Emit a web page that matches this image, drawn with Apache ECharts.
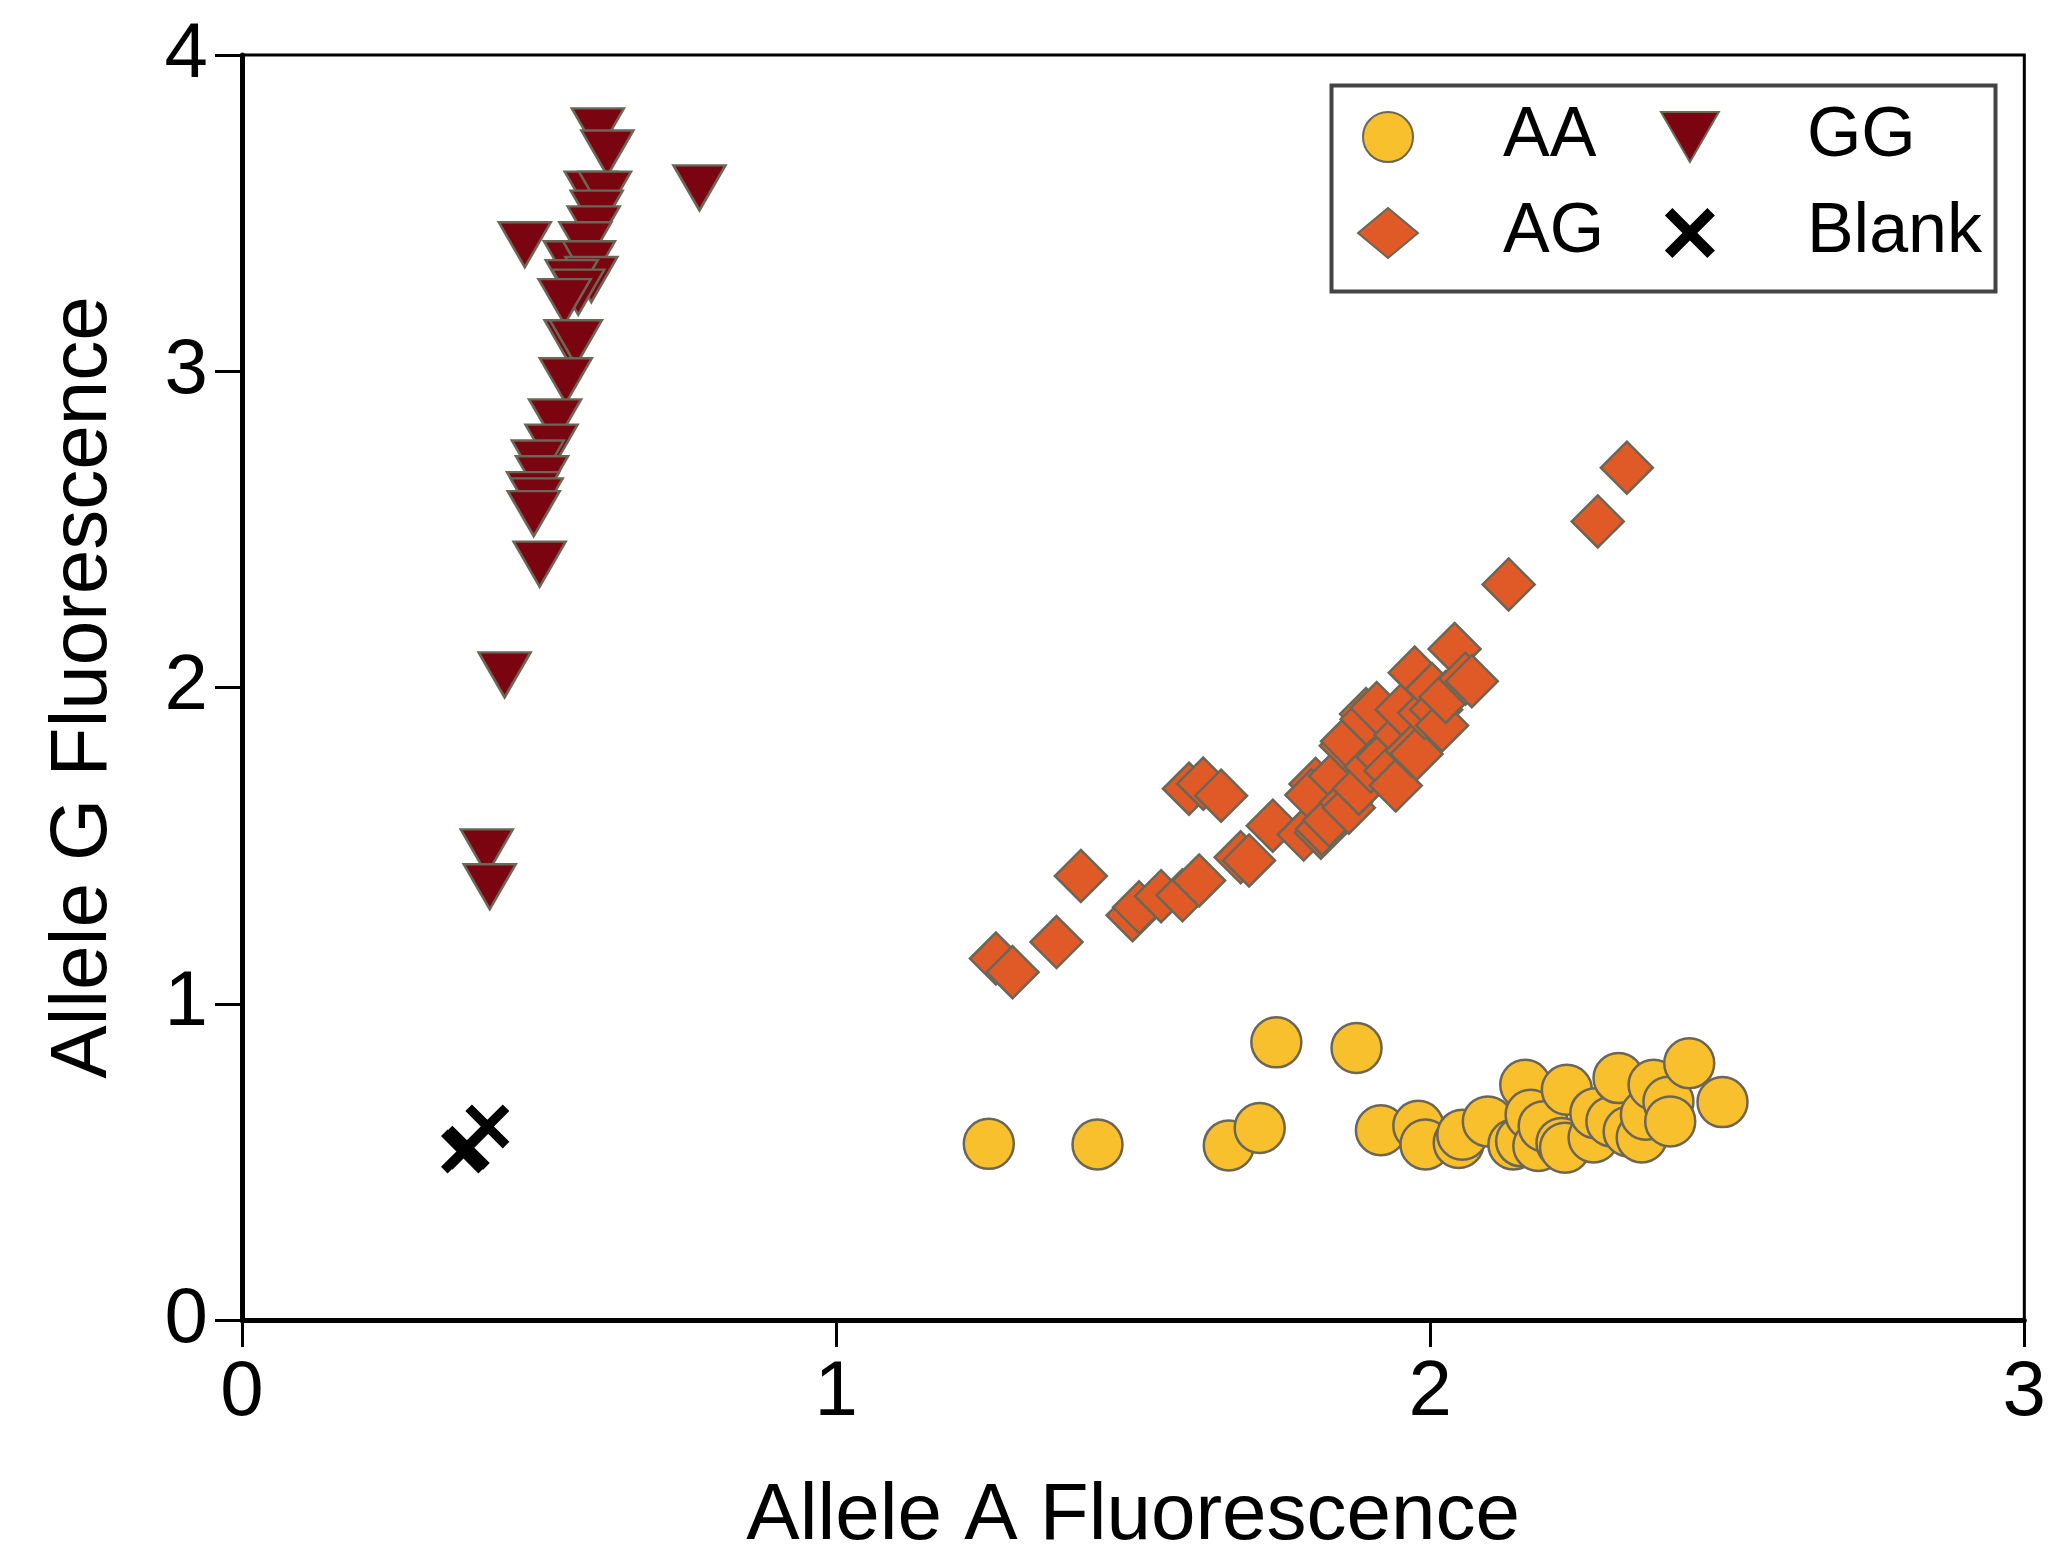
<!DOCTYPE html>
<html>
<head>
<meta charset="utf-8">
<title>Allele discrimination plot</title>
<script src="https://cdn.jsdelivr.net/npm/echarts@6.0.0/dist/echarts.min.js"></script>
<style>
  html, body { margin: 0; padding: 0; background: #fff; }
  #alleleChart { width: 2049px; height: 1562px; }
</style>
</head>
<body>
<div id="alleleChart"></div>
<script>
// values: [allele A, allele G]
var aaPoints = [
    [1.257, 0.557], [1.440, 0.555], [1.661, 0.552], [1.713, 0.607], [1.741, 0.878],
    [1.876, 0.860], [1.917, 0.600], [1.980, 0.614], [1.992, 0.555], [2.048, 0.560],
    [2.054, 0.586], [2.097, 0.628], [2.140, 0.555], [2.153, 0.565], [2.160, 0.744],
    [2.169, 0.649], [2.182, 0.550], [2.191, 0.613], [2.221, 0.560], [2.227, 0.545],
    [2.230, 0.728], [2.275, 0.577], [2.278, 0.654], [2.305, 0.628], [2.317, 0.765],
    [2.334, 0.596], [2.356, 0.577], [2.363, 0.649], [2.376, 0.744], [2.401, 0.690],
    [2.404, 0.628], [2.436, 0.812], [2.492, 0.689]
];

var agPoints = [
    [1.269, 1.143], [1.297, 1.100], [1.371, 1.195], [1.412, 1.404], [1.499, 1.280],
    [1.510, 1.305], [1.547, 1.340], [1.583, 1.343], [1.611, 1.390], [1.594, 1.680],
    [1.618, 1.696], [1.648, 1.658], [1.681, 1.463], [1.695, 1.453], [1.735, 1.563],
    [1.787, 1.535], [1.816, 1.541], [1.807, 1.695], [1.800, 1.660], [1.818, 1.553],
    [1.830, 1.580], [1.840, 1.720], [1.858, 1.636], [1.863, 1.620], [1.880, 1.680],
    [1.858, 1.816], [1.860, 1.830], [1.892, 1.916], [1.893, 1.900], [1.900, 1.750],
    [1.910, 1.935], [1.920, 1.780], [1.933, 1.737], [1.942, 1.690], [1.950, 1.850],
    [1.952, 1.930], [1.969, 1.800], [1.977, 1.790], [1.974, 2.047], [1.990, 1.920],
    [2.003, 1.995], [2.010, 1.930], [2.020, 1.880], [2.026, 1.970], [2.041, 2.122],
    [2.059, 2.028], [2.070, 2.020], [2.132, 2.326], [2.282, 2.525], [2.331, 2.695]
];

var ggPoints = [
    [0.599, 3.76], [0.615, 3.69], [0.770, 3.58], [0.587, 3.56], [0.611, 3.56],
    [0.597, 3.50], [0.592, 3.45], [0.476, 3.40], [0.578, 3.40], [0.552, 3.34],
    [0.584, 3.34], [0.588, 3.29], [0.555, 3.28], [0.566, 3.25], [0.543, 3.22],
    [0.553, 3.09], [0.562, 3.09], [0.545, 2.97], [0.527, 2.84], [0.521, 2.76],
    [0.498, 2.71], [0.505, 2.66], [0.490, 2.61], [0.496, 2.59], [0.491, 2.55],
    [0.501, 2.39], [0.442, 2.04], [0.412, 1.48], [0.417, 1.37]
];

var blankPoints = [
    [0.413, 0.612], [0.372, 0.533], [0.380, 0.545]
];

// legend is laid out as two columns
var legendColumn1 = ['AA', 'AG'];
var legendColumn2 = ['GG', 'Blank'];
var xTitle = 'Allele A Fluorescence';
var yTitle = 'Allele G Fluorescence';

var FONT = '"Liberation Sans", Arial, Helvetica, sans-serif';
var MARKER_BORDER = '#6b6656';
// down-pointing triangle and the heavy "x" used for blanks
var TRIANGLE_DOWN = 'path://M0,0 L20,0 L10,17.3 Z';
var CROSS = 'path://M0,3 L3,0 L10,7 L17,0 L20,3 L13,10 L20,17 L17,20 L10,13 L3,20 L0,17 L7,10 Z';

var alleleChart;

function init() {
    alleleChart = echarts.init(document.getElementById('alleleChart'), null, { renderer: 'canvas' });
    alleleChart.setOption(makeOptions());
}

function makeAxis(name, max, gap, rotate) {
    return {
        type: 'value',
        min: 0,
        max: max,
        interval: 1,
        name: name,
        nameLocation: 'middle',
        nameGap: gap,
        nameRotate: rotate,
        nameTextStyle: { fontFamily: FONT, fontSize: 80, color: '#000' },
        axisLine: { show: true, onZero: false, lineStyle: { color: '#000', width: 5 } },
        axisTick: { show: true, inside: false, length: 27, lineStyle: { color: '#000', width: 3 } },
        axisLabel: { fontFamily: FONT, fontSize: 78, color: '#000', margin: 34 },
        splitLine: { show: false }
    };
}

function makeLegend(names, left, textPad) {
    return {
        data: names,
        left: left,
        top: 102,
        orient: 'vertical',
        itemWidth: 60,
        itemHeight: 50,
        itemGap: 26,
        padding: 0,
        textStyle: {
            fontFamily: FONT, fontSize: 70, color: '#000',
            lineHeight: 70, padding: [0, 0, 0, textPad]
        }
    };
}

function makeOptions() {
    return {
        backgroundColor: '#fff',
        animation: false,
        grid: {
            left: 242, right: 23, top: 55, bottom: 235,
            show: true, borderColor: '#000', borderWidth: 3, backgroundColor: 'transparent'
        },
        legend: [
            makeLegend(legendColumn1, 1357, 80),
            makeLegend(legendColumn2, 1660, 82)
        ],
        // frame drawn around both legend columns
        graphic: [{
            type: 'rect',
            left: 1329, top: 83,
            shape: { width: 664, height: 206 },
            style: { fill: 'none', stroke: '#444', lineWidth: 4 },
            z: 10
        }],
        xAxis: makeAxis(xTitle, 3, 157, 0),
        yAxis: makeAxis(yTitle, 4, 118, 90),
        series: [
            {
                name: 'AA', type: 'scatter', data: aaPoints,
                symbol: 'circle', symbolSize: 50,
                itemStyle: { color: '#f9c02e', borderColor: MARKER_BORDER, borderWidth: 2.5, opacity: 1 }
            },
            {
                name: 'AG', type: 'scatter', data: agPoints,
                symbol: 'diamond', symbolSize: 52,
                itemStyle: { color: '#e05a28', borderColor: MARKER_BORDER, borderWidth: 2.5, opacity: 1 }
            },
            {
                name: 'GG', type: 'scatter', data: ggPoints,
                symbol: TRIANGLE_DOWN, symbolSize: [52, 45],
                itemStyle: { color: '#7a0510', borderColor: MARKER_BORDER, borderWidth: 2.5, opacity: 1 }
            },
            {
                name: 'Blank', type: 'scatter', data: blankPoints,
                symbol: CROSS, symbolSize: 44,
                itemStyle: { color: '#000', borderWidth: 0, opacity: 1 }
            }
        ]
    };
}

init();
</script>
</body>
</html>
